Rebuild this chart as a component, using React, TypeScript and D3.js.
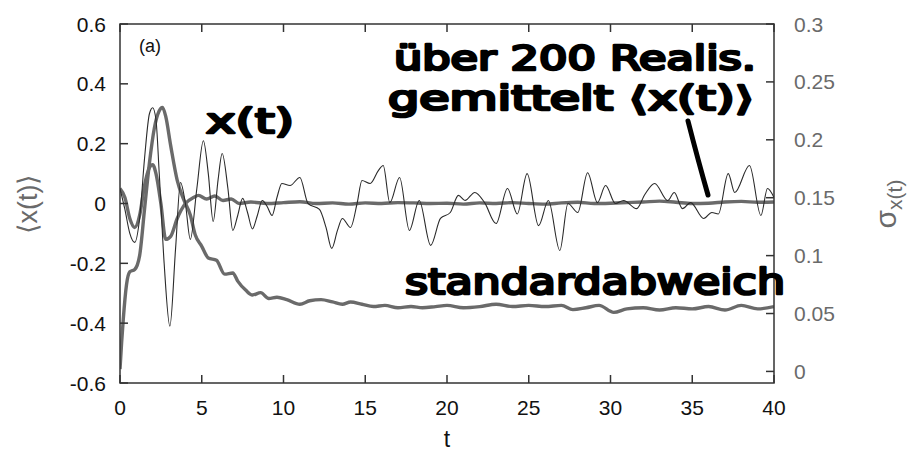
import React from "react";
import * as d3 from "d3";

const W = 916;
const H = 454;

// single realisation x(t)
const thinT = [0, 0.3, 0.6, 0.9, 1.2, 1.5, 1.8, 2.0, 2.2, 2.4, 2.7, 3.05, 3.4, 3.7, 4.0, 4.3, 4.7, 5.1, 5.4, 5.7, 6.0, 6.25, 6.6, 6.9, 7.2, 7.5, 7.8, 8.1, 8.4, 8.7, 9.0, 9.3, 9.6, 9.9, 10.4, 11.0, 11.5, 12.2, 12.6, 12.95, 13.3, 13.6, 14.1, 14.5, 14.8, 15.3, 15.8, 16.1, 16.5, 17.1, 17.7, 18.3, 19.0, 19.6, 20.2, 20.7, 21.1, 21.7, 22.3, 23.0, 23.7, 24.3, 24.9, 25.6, 26.2, 26.9, 27.4, 28.0, 28.6, 29.2, 29.7, 30.3, 30.8, 31.6, 32.1, 32.7, 33.5, 33.9, 34.4, 34.9, 35.7, 36.2, 36.6, 37.2, 37.6, 38.5, 39.2, 39.6, 40];
const thinX = [0.05, -0.02, -0.1, -0.13, -0.05, 0.15, 0.3, 0.32, 0.28, 0.1, -0.2, -0.41, -0.15, 0.07, 0.0, -0.12, 0.05, 0.21, 0.1, -0.06, 0.08, 0.167, 0.05, -0.09, -0.04, 0.017, -0.03, -0.085, -0.04, 0.01, -0.01, -0.04, 0.02, 0.067, 0.06, 0.087, 0.0, -0.02, -0.08, -0.15, -0.09, -0.05, -0.08, 0.0, 0.077, 0.067, 0.11, 0.127, 0.003, 0.087, -0.09, 0.01, -0.14, -0.05, -0.03, 0.027, 0.01, 0.037, 0.003, -0.067, 0.05, -0.035, 0.1, -0.074, 0.01, -0.157, 0.0, -0.03, 0.103, 0.003, 0.06, 0.0, 0.01, -0.017, 0.03, 0.067, 0.01, 0.037, -0.017, 0.003, -0.05, -0.03, -0.035, 0.1, 0.037, 0.127, -0.04, 0.05, 0.02];

// mean over 200 realisations <x(t)>
const meanT = [0, 0.3, 0.6, 0.9, 1.2, 1.5, 1.8, 2.0, 2.2, 2.5, 2.8, 3.1, 3.5, 4.0, 4.5, 4.8, 5.3, 5.8, 6.3, 6.8, 7.3, 8, 9, 10, 11, 12, 13, 14, 15, 16, 17, 18, 19, 20, 21, 22, 23, 24, 25, 26, 27, 28, 29, 30, 31, 32, 33, 34, 35, 36, 37, 38, 39, 40];
const meanX = [0.05, 0.02, -0.05, -0.08, -0.04, 0.06, 0.12, 0.13, 0.1, 0.0, -0.12, -0.11, -0.05, 0.0, 0.02, 0.027, 0.015, 0.025, 0.01, 0.015, 0.0, 0.005, 0.0, 0.003, 0.006, 0.0, 0.002, -0.002, 0.002, 0.0, 0.003, 0.002, 0.0, 0.001, -0.002, 0.002, 0.0, 0.003, 0.0, -0.002, 0.002, 0.004, 0.0, 0.001, 0.003, 0.005, 0.008, 0.004, 0.0, 0.001, 0.005, 0.007, 0.004, 0.005];

// standard deviation sigma_x(t) (right axis)
const sigT = [0, 0.1, 0.2, 0.4, 0.6, 0.9, 1.2, 1.5, 1.8, 2.1, 2.4, 2.6, 2.8, 3.1, 3.5, 3.85, 4.3, 4.6, 5.0, 5.4, 5.9, 6.4, 6.9, 7.2, 7.7, 8.1, 8.6, 9.1, 9.6, 10.2, 11.0, 11.6, 12.3, 13.0, 13.6, 14.1, 14.8, 15.5, 16.2, 17.0, 17.8, 18.5, 19.3, 20, 21, 22, 23, 24, 25, 26, 27, 27.7, 28.5, 29.3, 30.2, 31, 32, 33, 34, 35, 36, 37, 38, 39, 40];
const sigV = [0.002, 0.025, 0.045, 0.075, 0.086, 0.088, 0.1, 0.14, 0.18, 0.21, 0.225, 0.228, 0.22, 0.195, 0.165, 0.15, 0.135, 0.118, 0.108, 0.098, 0.096, 0.084, 0.085, 0.078, 0.07, 0.066, 0.068, 0.063, 0.064, 0.062, 0.058, 0.061, 0.062, 0.06, 0.058, 0.06, 0.058, 0.056, 0.057, 0.055, 0.056, 0.055, 0.056, 0.057, 0.055, 0.056, 0.058, 0.056, 0.057, 0.056, 0.057, 0.0534, 0.055, 0.057, 0.051, 0.054, 0.055, 0.053, 0.055, 0.054, 0.056, 0.053, 0.057, 0.054, 0.056];

const xTicks = [0, 5, 10, 15, 20, 25, 30, 35, 40];
const yLeftTicks = [0.6, 0.4, 0.2, 0, -0.2, -0.4, -0.6];
const yRightTicks = [0, 0.05, 0.1, 0.15, 0.2, 0.25, 0.3];

const M = { left: 120, right: 774, top: 24, bottom: 383 };

export default function App() {
  const x = d3.scaleLinear().domain([0, 40]).range([M.left, M.right]);
  const yL = d3.scaleLinear().domain([-0.6, 0.6]).range([M.bottom, M.top]);
  const yR = d3.scaleLinear().domain([-0.01, 0.3]).range([M.bottom, M.top]);

  const lineL = d3
    .line<[number, number]>()
    .x((d) => x(d[0]))
    .y((d) => yL(d[1]))
    .curve(d3.curveMonotoneX);
  const lineR = d3
    .line<[number, number]>()
    .x((d) => x(d[0]))
    .y((d) => yR(d[1]))
    .curve(d3.curveMonotoneX);

  const thin = thinT.map((t, i) => [t, thinX[i]] as [number, number]);
  const mean = meanT.map((t, i) => [t, meanX[i]] as [number, number]);
  const sig = sigT.map((t, i) => [t, sigV[i]] as [number, number]);

  const axisColor = "#333";
  const grey = "#6a6a6a";
  const tickLen = 8;
  const font = "'Liberation Sans', Arial, sans-serif";
  const hand = "'DejaVu Sans', sans-serif";
  const fs = 21;

  return (
    <svg
      width={W}
      height={H}
      style={{ position: "absolute", left: 0, top: 0, background: "#fff" }}
      fontFamily={font}
    >
      <rect x={0} y={0} width={W} height={H} fill="#fff" />
      <defs>
        <clipPath id="plot">
          <rect x={M.left} y={M.top} width={M.right - M.left} height={M.bottom - M.top} />
        </clipPath>
      </defs>

      {/* data */}
      <g clipPath="url(#plot)">
        <path d={lineR(sig) || ""} fill="none" stroke={grey} strokeWidth={3.4} />
        <path d={lineL(mean) || ""} fill="none" stroke={grey} strokeWidth={3.4} />
        <path d={lineL(thin) || ""} fill="none" stroke="#2a2a2a" strokeWidth={1.1} />
      </g>

      {/* frame */}
      <rect
        x={M.left}
        y={M.top}
        width={M.right - M.left}
        height={M.bottom - M.top}
        fill="none"
        stroke={axisColor}
        strokeWidth={1.5}
      />

      {/* x ticks */}
      {xTicks.map((t) => (
        <g key={"x" + t}>
          <line x1={x(t)} x2={x(t)} y1={M.bottom} y2={M.bottom - tickLen} stroke={axisColor} strokeWidth={1.5} />
          <line x1={x(t)} x2={x(t)} y1={M.top} y2={M.top + tickLen} stroke={axisColor} strokeWidth={1.5} />
          <text x={x(t)} y={415} textAnchor="middle" fontSize={fs} fill="#111">
            {t}
          </text>
        </g>
      ))}

      {/* left ticks */}
      {yLeftTicks.map((v) => (
        <g key={"l" + v}>
          <line x1={M.left} x2={M.left + tickLen} y1={yL(v)} y2={yL(v)} stroke={axisColor} strokeWidth={1.5} />
          <text x={106} y={yL(v) + 7.5} textAnchor="end" fontSize={fs} fill="#111">
            {v === 0 ? "0" : v.toFixed(1)}
          </text>
        </g>
      ))}

      {/* right ticks */}
      {yRightTicks.map((v) => (
        <g key={"r" + v}>
          <line x1={M.right} x2={M.right - tickLen} y1={yR(v)} y2={yR(v)} stroke={axisColor} strokeWidth={1.5} />
          <text x={794} y={yR(v) + 7.5} textAnchor="start" fontSize={fs} fill={grey}>
            {String(v)}
          </text>
        </g>
      ))}

      {/* axis labels */}
      <text x={447} y={447} textAnchor="middle" fontSize={23} fill="#111">
        t
      </text>
      <text
        transform={`translate(37,204) rotate(-90)`}
        textAnchor="middle"
        fontSize={27}
        fill={grey}
      >
        ⟨x(t)⟩
      </text>
      <text
        transform={`translate(896,204) rotate(-90)`}
        textAnchor="middle"
        fontSize={30}
        fill={grey}
      >
        σ<tspan fontSize={21} dy={6}>x(t)</tspan>
      </text>

      <text x={139} y={52} fontSize={18} fill="#111">
        (a)
      </text>

      {/* handwritten annotations */}
      <g
        fontFamily={hand}
        fontWeight="normal"
        fill="#000"
        stroke="#000"
        strokeWidth={2.6}
        strokeLinejoin="round"
      >
        <text x={206} y={133} fontSize={34} textLength={88} lengthAdjust="spacingAndGlyphs">
          x(t)
        </text>
        <text x={394} y={70} fontSize={33} textLength={362} lengthAdjust="spacingAndGlyphs">
          über 200 Realis.
        </text>
        <text x={388} y={110} fontSize={33} textLength={366} lengthAdjust="spacingAndGlyphs">
          gemittelt ⟨x(t)⟩
        </text>
        <text x={405} y={294} fontSize={36} textLength={380} lengthAdjust="spacingAndGlyphs">
          standardabweich
        </text>
      </g>
      <path d="M688,121 Q698,160 708,195" fill="none" stroke="#000" strokeWidth={5} strokeLinecap="round" />
    </svg>
  );
}
